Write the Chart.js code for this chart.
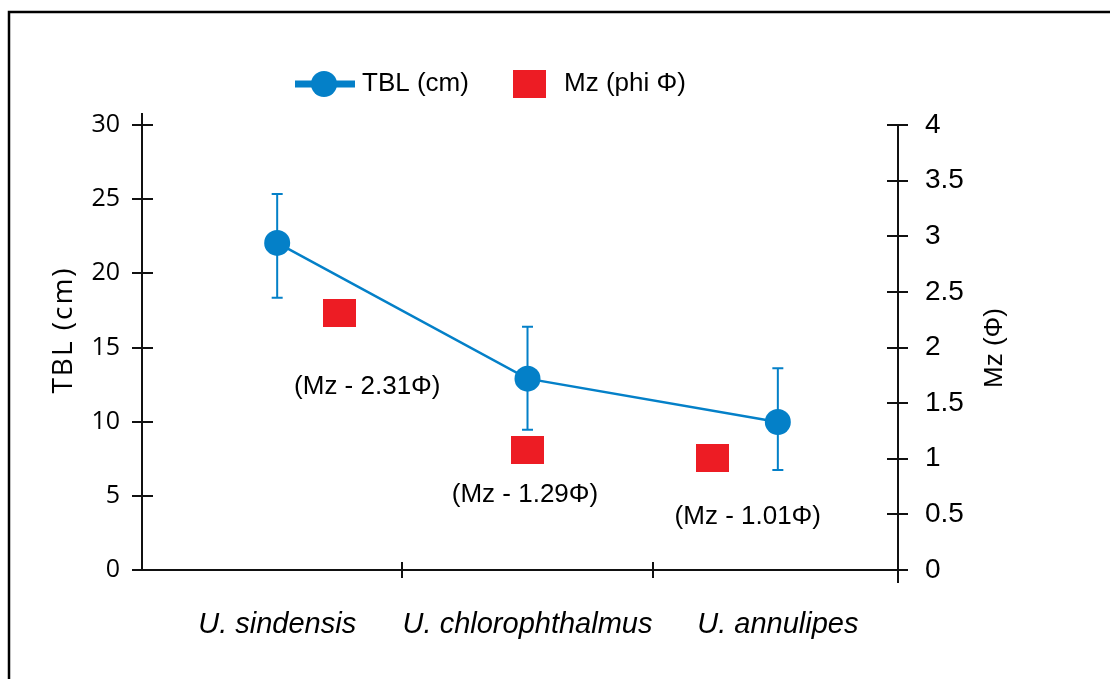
<!DOCTYPE html>
<html>
<head>
<meta charset="utf-8">
<script src="https://cdn.jsdelivr.net/npm/chart.js@4.4.1/dist/chart.umd.min.js"></script>
<style>
html,body{margin:0;padding:0;background:#fff;}
#wrap{width:1110px;height:679px;position:relative;}
canvas{display:block;}
</style>
</head>
<body>
<div id="wrap"><canvas id="c" width="1110" height="679"></canvas></div>
<script>
// ---- data ----
const categories = ['U. sindensis', 'U. chlorophthalmus', 'U. annulipes'];
const tblMean = [22.05, 12.9, 9.98];
const tblUpper = [25.35, 16.4, 13.6];
const tblLower = [18.35, 9.45, 6.75];
const mzPlotted = [2.31, 1.08, 1.01];
const mzShift = [0.25, 0, -0.26];          // offset from category centre, in category units
const mzStated = ['2.31', '1.29', '1.01'];
const noteX = [1.36, 1.99, 2.88];           // annotation anchor, category units
const noteY = [1.645, 0.674, 0.476];        // annotation anchor, Mz units
const leftTicks = [0, 5, 10, 15, 20, 25, 30];
const rightTicks = [0, 0.5, 1, 1.5, 2, 2.5, 3, 3.5, 4];
const dividerTicks = [1.5, 2.5];

const BLUE = '#0480c8';
const RED = '#ed1c24';
const INK = '#111111';

const rectCanvas = document.createElement('canvas');
rectCanvas.width = 33; rectCanvas.height = 28;
(function(){ const g = rectCanvas.getContext('2d'); g.fillStyle = RED; g.fillRect(0,0,33,28); })();

const decor = {
  id: 'decor',
  beforeDatasetsDraw(chart) {
    const ctx = chart.ctx;
    const x = chart.scales.x, y = chart.scales.y, y1 = chart.scales.y1;
    ctx.save();
    // frame
    ctx.strokeStyle = '#000'; ctx.lineWidth = 2.5;
    ctx.beginPath(); ctx.moveTo(9, 700); ctx.lineTo(9, 12); ctx.lineTo(1120, 12); ctx.stroke();
    // axes
    ctx.strokeStyle = INK; ctx.lineWidth = 2;
    const L = x.getPixelForValue(x.min), R = x.getPixelForValue(x.max);
    const B = y.getPixelForValue(0), T = y.getPixelForValue(30);
    ctx.beginPath();
    ctx.moveTo(L, T - 12); ctx.lineTo(L, B); ctx.lineTo(R, B);
    ctx.moveTo(R, y1.getPixelForValue(4)); ctx.lineTo(R, B + 13);
    leftTicks.forEach(v => { const p = Math.round(y.getPixelForValue(v)); ctx.moveTo(L - 10, p); ctx.lineTo(L + 11, p); });
    rightTicks.forEach(v => { const p = Math.round(y1.getPixelForValue(v)); ctx.moveTo(R - 11, p); ctx.lineTo(R + 10, p); });
    dividerTicks.forEach(v => { const p = Math.round(x.getPixelForValue(v)); ctx.moveTo(p, B - 8); ctx.lineTo(p, B + 8); });
    ctx.stroke();
    // error bars
    ctx.strokeStyle = BLUE; ctx.lineWidth = 2;
    ctx.beginPath();
    tblMean.forEach((m, i) => {
      const px = x.getPixelForValue(i + 1);
      const hi = y.getPixelForValue(tblUpper[i]), lo = y.getPixelForValue(tblLower[i]);
      ctx.moveTo(px, hi); ctx.lineTo(px, lo);
      ctx.moveTo(px - 5.5, hi); ctx.lineTo(px + 5.5, hi);
      ctx.moveTo(px - 5.5, lo); ctx.lineTo(px + 5.5, lo);
    });
    ctx.stroke();
    ctx.restore();
  },
  afterDraw(chart) {
    const ctx = chart.ctx;
    const x = chart.scales.x, y1 = chart.scales.y1;
    ctx.save();
    ctx.fillStyle = '#000';
    // annotations
    ctx.font = '26px "Liberation Sans", Arial, sans-serif';
    ctx.textAlign = 'center'; ctx.textBaseline = 'middle';
    mzStated.forEach((s, i) => {
      ctx.fillText('(Mz - ' + s + 'Φ)', x.getPixelForValue(noteX[i]), y1.getPixelForValue(noteY[i]));
    });
    // right axis title (reads bottom-to-top)
    ctx.save();
    ctx.translate(995, 348); ctx.rotate(-Math.PI / 2);
    ctx.fillText('Mz (Φ)', 0, 0);
    ctx.restore();
    // left axis title
    ctx.save();
    ctx.translate(64, 330); ctx.rotate(-Math.PI / 2);
    ctx.font = '28px "Open Sans", sans-serif';
    try { ctx.letterSpacing = '2px'; } catch(e) {}
    ctx.fillText('TBL (cm)', 0, 0);
    ctx.restore();
    // legend
    const ds0 = chart.data.datasets[0], ds1 = chart.data.datasets[1];
    ctx.strokeStyle = ds0.borderColor; ctx.lineWidth = 7;
    ctx.beginPath(); ctx.moveTo(295, 84); ctx.lineTo(355, 84); ctx.stroke();
    ctx.fillStyle = ds0.backgroundColor;
    ctx.beginPath(); ctx.arc(324, 84, 13, 0, Math.PI * 2); ctx.fill();
    ctx.drawImage(rectCanvas, 513, 70);
    ctx.fillStyle = '#000';
    ctx.font = '26px "Liberation Sans", Arial, sans-serif';
    ctx.textAlign = 'left'; ctx.textBaseline = 'middle';
    ctx.fillText(ds0.label, 362, 84);
    ctx.fillText(ds1.label, 564, 84);
    ctx.restore();
  }
};

new Chart(document.getElementById('c'), {
  type: 'line',
  data: {
    datasets: [
      {
        label: 'TBL (cm)',
        data: tblMean.map((v, i) => ({ x: i + 1, y: v })),
        xAxisID: 'x', yAxisID: 'y',
        borderColor: BLUE, backgroundColor: BLUE,
        borderWidth: 2.5, tension: 0,
        pointRadius: 13, pointHoverRadius: 13, pointBorderWidth: 0,
        order: 1
      },
      {
        label: 'Mz (phi Φ)',
        data: mzPlotted.map((v, i) => ({ x: i + 1 + mzShift[i], y: v })),
        xAxisID: 'x', yAxisID: 'y1',
        showLine: false,
        pointStyle: rectCanvas,
        backgroundColor: RED, borderColor: RED,
        pointRadius: 16, pointHoverRadius: 16,
        order: 2
      }
    ]
  },
  options: {
    responsive: false,
    animation: false,
    devicePixelRatio: 1,
    events: [],
    layout: { padding: { top: 125, left: 0, right: 0, bottom: 0 } },
    plugins: { legend: { display: false }, tooltip: { enabled: false }, title: { display: false } },
    scales: {
      x: {
        type: 'linear', min: 0.46, max: 3.48,
        afterBuildTicks: s => { s.ticks = categories.map((c, i) => ({ value: i + 1 })); },
        afterFit: s => { s.height = 109; },
        grid: { display: false, drawTicks: false }, border: { display: false },
        ticks: {
          autoSkip: false, maxRotation: 0, minRotation: 0, padding: 38, color: '#000',
          font: { family: '"Liberation Sans", Arial, sans-serif', size: 29, style: 'italic' },
          callback: v => categories[Math.round(v) - 1]
        }
      },
      y: {
        position: 'left', min: 0, max: 30,
        afterBuildTicks: s => { s.ticks = leftTicks.map(v => ({ value: v })); },
        afterFit: s => { s.width = 142; },
        grid: { display: false, drawTicks: false }, border: { display: false },
        ticks: { padding: 22, color: '#000', font: { family: '"Open Sans", sans-serif', size: 25 } }
      },
      y1: {
        position: 'right', min: 0, max: 4,
        afterBuildTicks: s => { s.ticks = rightTicks.map(v => ({ value: v })); },
        afterFit: s => { s.width = 212; },
        grid: { display: false, drawTicks: false }, border: { display: false },
        ticks: { padding: 27, color: '#000', font: { family: '"Liberation Sans", Arial, sans-serif', size: 28 },
          callback: v => String(v) }
      }
    }
  },
  plugins: [decor]
});
</script>
</body>
</html>
